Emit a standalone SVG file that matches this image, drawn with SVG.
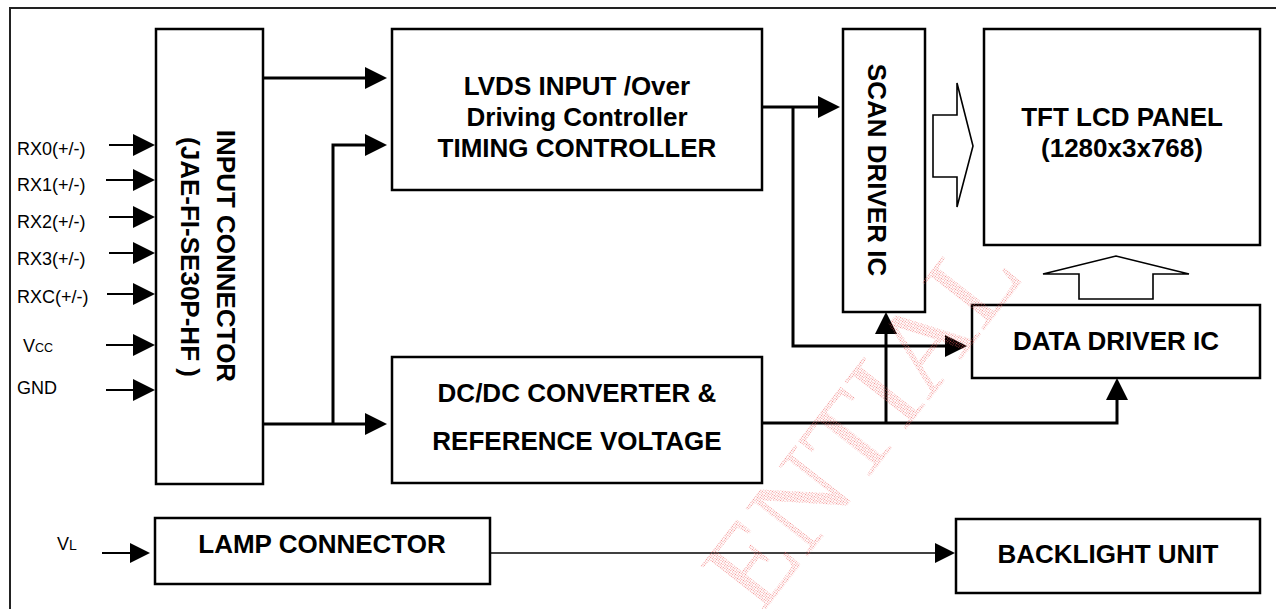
<svg xmlns="http://www.w3.org/2000/svg" width="1276" height="609" viewBox="0 0 1276 609">
<style>
.box{fill:#fff;stroke:#000;stroke-width:2.5}
.t{font-family:"Liberation Sans",Arial,sans-serif;font-weight:bold;font-size:26px;fill:#000;text-anchor:middle}
.l{font-family:"Liberation Sans",Arial,sans-serif;font-size:18px;fill:#000}
.thick{fill:none;stroke:#000;stroke-width:3}
.thin{fill:none;stroke:#000;stroke-width:2}
.hair{fill:none;stroke:#000;stroke-width:1.6}
.hollow{fill:#fff;stroke:#000;stroke-width:1.6;stroke-linejoin:miter}
</style>
<defs>
<marker id="ah" markerUnits="userSpaceOnUse" viewBox="0 0 22 22" markerWidth="22" markerHeight="22" refX="12" refY="11" orient="auto">
<path d="M0,0 L22,11 L0,22 Z" fill="#000"/>
</marker>
<marker id="as" markerUnits="userSpaceOnUse" viewBox="0 0 20 20" markerWidth="20" markerHeight="20" refX="10" refY="10" orient="auto">
<path d="M0,0 L20,10 L0,20 Z" fill="#000"/>
</marker>
<pattern id="dots" width="2" height="2" patternUnits="userSpaceOnUse">
<rect width="1" height="1" fill="#f06060"/>
</pattern>
</defs>
<rect width="1276" height="609" fill="#fff"/>
<path d="M10,609 V8 H1276" fill="none" stroke="#222" stroke-width="2"/>

<g id="input-connector">
<rect class="box" x="156" y="29" width="107" height="455"/>
<text class="t" transform="translate(217,256) rotate(90)">INPUT CONNECTOR</text>
<text class="t" transform="translate(181,257) rotate(90)">(JAE-FI-SE30P-HF )</text>
</g>
<g id="lvds">
<rect class="box" x="392" y="29" width="370" height="161"/>
<text class="t" x="577" y="95">LVDS INPUT /Over</text>
<text class="t" x="577" y="126">Driving Controller</text>
<text class="t" x="577" y="157">TIMING CONTROLLER</text>
</g>
<g id="scan-driver">
<rect class="box" x="843" y="29" width="82" height="283"/>
<text class="t" transform="translate(868,170) rotate(90)">SCAN DRIVER IC</text>
</g>
<g id="tft-panel">
<rect class="box" x="984" y="29" width="276" height="216"/>
<text class="t" x="1122" y="126">TFT LCD PANEL</text>
<text class="t" x="1122" y="157">(1280x3x768)</text>
</g>
<g id="data-driver">
<rect class="box" x="972" y="305" width="288" height="73"/>
<text class="t" x="1116" y="350">DATA DRIVER IC</text>
</g>
<g id="dcdc">
<rect class="box" x="392" y="357" width="370" height="126"/>
<text class="t" x="577" y="402">DC/DC CONVERTER &amp;</text>
<text class="t" x="577" y="450">REFERENCE VOLTAGE</text>
</g>
<g id="lamp-connector">
<rect class="box" x="155" y="518" width="335" height="66"/>
<text class="t" x="322" y="553">LAMP CONNECTOR</text>
</g>
<g id="backlight">
<rect class="box" x="956" y="519" width="304" height="74"/>
<text class="t" x="1108" y="563">BACKLIGHT UNIT</text>
</g>

<g id="input-labels">
<text class="l" x="17" y="155">RX0(+/-)</text>
<text class="l" x="17" y="191">RX1(+/-)</text>
<text class="l" x="17" y="228">RX2(+/-)</text>
<text class="l" x="17" y="265">RX3(+/-)</text>
<text class="l" x="17" y="303">RXC(+/-)</text>
<text class="l" x="23" y="352">V<tspan font-size="12.5">CC</tspan></text>
<text class="l" x="17" y="394" font-size="20.5">GND</text>
<text class="l" x="57" y="550" font-size="20">V<tspan font-size="14">L</tspan></text>
</g>

<g id="connectors">
<path class="thin" d="M109,145 H145" marker-end="url(#ah)"/>
<path class="thin" d="M106,180 H145" marker-end="url(#ah)"/>
<path class="thin" d="M109,217 H145" marker-end="url(#ah)"/>
<path class="thin" d="M109,253 H145" marker-end="url(#ah)"/>
<path class="thin" d="M107,294 H145" marker-end="url(#ah)"/>
<path class="thin" d="M106,345 H145" marker-end="url(#ah)"/>
<path class="thin" d="M106,390 H145" marker-end="url(#ah)"/>
<path class="thin" d="M102,553 H140" marker-end="url(#as)"/>

<path class="thick" d="M263,78 H377" marker-end="url(#ah)"/>
<path class="thick" d="M263,424 H377" marker-end="url(#ah)"/>
<path class="thick" d="M333,424 V145 H377" marker-end="url(#ah)"/>
<path class="thick" d="M762,107 H830" marker-end="url(#ah)"/>
<path class="thick" d="M793,107 V346 H957" marker-end="url(#ah)"/>
<path class="thick" d="M762,423 H1117 V388" marker-end="url(#ah)"/>
<path class="thick" d="M886,423 V322" marker-end="url(#ah)"/>
<path class="hair" d="M490,553 H945" marker-end="url(#as)"/>

<polygon class="hollow" points="933,115 957,115 957,83 973,146 957,207 957,177 933,177"/>
<polygon class="hollow" points="1079,299 1079,274 1043,274 1116,256 1189,274 1153,274 1153,299"/>
</g>

<text x="0" y="0" transform="translate(760,617) rotate(-52)" font-family="'Liberation Serif',serif" font-size="120" fill="url(#dots)" opacity="0.7">ENTIAL</text>
</svg>
